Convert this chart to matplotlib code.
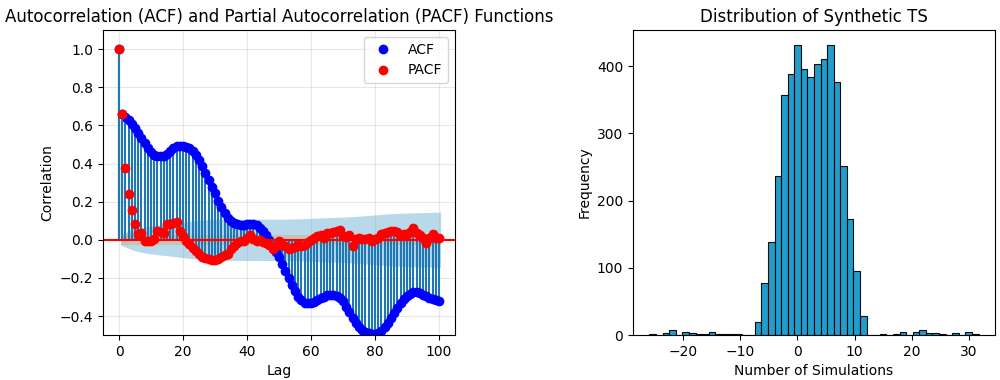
import numpy as np
import matplotlib
matplotlib.use("Agg")
import matplotlib.pyplot as plt

# ACF / PACF values, lags 0..100
lags = np.arange(101)
acf_vals = np.array([
    1.0, 0.66, 0.645, 0.628, 0.608, 0.585, 0.56, 0.533, 0.505, 0.48,
    0.46, 0.447, 0.44, 0.438, 0.442, 0.452, 0.466, 0.48, 0.49, 0.493,
    0.493, 0.489, 0.48, 0.466, 0.447, 0.42, 0.385, 0.35, 0.315, 0.278,
    0.243, 0.205, 0.17, 0.138, 0.113, 0.098, 0.089, 0.082, 0.078, 0.078,
    0.081, 0.085, 0.085, 0.078, 0.064, 0.045, 0.025, -0.003, -0.033, -0.062,
    -0.09, -0.125, -0.163, -0.2, -0.236, -0.27, -0.298, -0.318, -0.329, -0.333,
    -0.331, -0.325, -0.316, -0.306, -0.298, -0.292, -0.289, -0.29, -0.295, -0.305,
    -0.322, -0.35, -0.38, -0.408, -0.435, -0.456, -0.472, -0.483, -0.49, -0.494,
    -0.494, -0.489, -0.476, -0.458, -0.435, -0.41, -0.383, -0.357, -0.332, -0.31,
    -0.294, -0.282, -0.275, -0.274, -0.279, -0.288, -0.297, -0.305, -0.311, -0.316,
    -0.322])
pacf_vals = np.array([
    1.0, 0.658, 0.378, 0.241, 0.154, 0.081, 0.031, 0.037, -0.004, -0.008,
    -0.005, 0.002, 0.046, 0.04, 0.037, 0.081, 0.084, 0.09, 0.093, 0.048,
    0.018, -0.007, -0.022, -0.045, -0.06, -0.075, -0.09, -0.098, -0.103, -0.106,
    -0.105, -0.1, -0.09, -0.082, -0.075, -0.05, -0.03, -0.016, -0.008, -0.008,
    0.01, 0.025, 0.005, -0.005, 0.0, -0.01, -0.017, -0.025, -0.047, -0.03,
    -0.005, -0.025, -0.035, -0.05, -0.045, -0.04, -0.028, -0.03, -0.025, -0.014,
    0.0, 0.008, 0.02, 0.026, 0.012, 0.034, 0.037, 0.04, 0.046, 0.049,
    0.02, 0.015, 0.025, -0.033, 0.005, 0.01, 0.005, 0.004, 0.008, -0.006,
    0.002, 0.007, 0.03, 0.037, 0.043, 0.045, 0.044, 0.04, 0.024, 0.028,
    0.032, 0.04, 0.06, 0.037, 0.025, 0.01, -0.016, 0.01, 0.028, 0.009,
    0.008])
n_obs = 5000

# histogram: 50 bins between min and max of the series
hist_min, hist_max = -25.9, 31.7
hist_counts = [2, 0, 3, 8, 0, 5, 3, 2, 2, 4,
               1, 2, 1, 1, 0, 0, 19, 78, 139, 237,
               357, 388, 431, 396, 384, 403, 411, 432, 376, 252,
               172, 96, 29, 0, 0, 2, 0, 2, 5, 0,
               5, 8, 3, 3, 1, 0, 3, 0, 5, 2]

fig = plt.figure(figsize=(10, 3.8), dpi=100)
ax1 = fig.add_axes([0.103, 0.118, 0.352, 0.803])
ax2 = fig.add_axes([0.633, 0.118, 0.362, 0.803])

# confidence bands (Bartlett for ACF, 1/sqrt(n) for PACF)
var_acf = np.r_[1.0, 1.0 + 2 * np.cumsum(acf_vals[1:-1] ** 2)] / n_obs
acf_half = 1.96 * np.sqrt(var_acf)
pacf_half = np.full(100, 1.96 / np.sqrt(n_obs))
band_x = lags[1:].astype(float)
band_x[0] -= 0.5
band_x[-1] += 0.5

ax1.vlines(lags, 0, acf_vals, color="C0", lw=1.5)
ax1.plot(lags, acf_vals, "o", color="blue", markersize=6, label="ACF")
ax1.fill_between(band_x, -acf_half, acf_half, color="#1f8ac0", alpha=0.32, lw=0)
ax1.vlines(lags, 0, pacf_vals, color="C0", lw=1.5)
ax1.plot(lags, pacf_vals, "o", color="red", markersize=6, label="PACF")
ax1.fill_between(band_x, -pacf_half, pacf_half, color="C1", alpha=0.25, lw=0)
ax1.axhline(0, color="red", lw=1.5)
ax1.set_xlim(-5, 105)
ax1.set_ylim(-0.5, 1.1)
ax1.set_title("Autocorrelation (ACF) and Partial Autocorrelation (PACF) Functions")
ax1.set_xlabel("Lag")
ax1.set_ylabel("Correlation")
ax1.grid(True, alpha=0.3)
ax1.legend(loc="upper right")

edges = np.linspace(hist_min, hist_max, len(hist_counts) + 1)
ax2.hist(edges[:-1], bins=edges, weights=hist_counts,
         color="#1597c9", edgecolor="black", alpha=0.95, lw=0.8)
ax2.set_title("Distribution of Synthetic TS")
ax2.set_xlabel("Number of Simulations")
ax2.set_ylabel("Frequency")

fig.savefig("out.png", dpi=100)
